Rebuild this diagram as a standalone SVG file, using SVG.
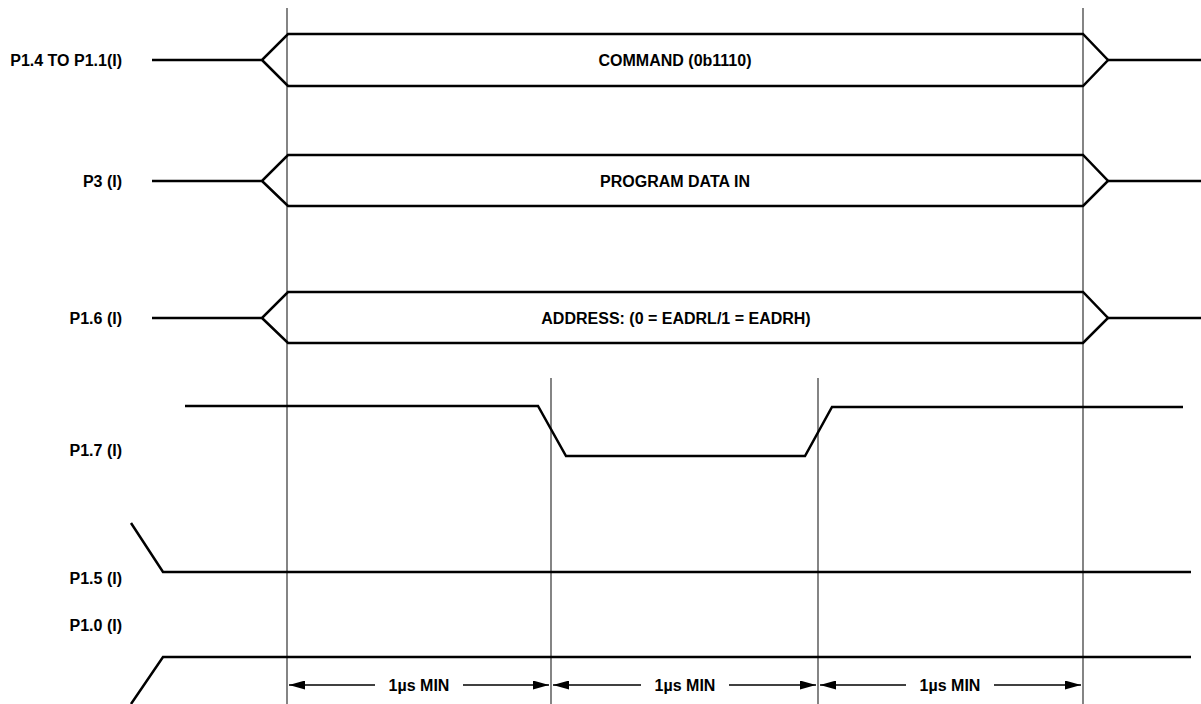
<svg xmlns="http://www.w3.org/2000/svg" width="1201" height="704" viewBox="0 0 1201 704">
<defs>
<style>
.sig{fill:none;stroke:#000;stroke-width:2.5;stroke-linejoin:miter}
.grid{stroke:#333;stroke-width:1.2}
.dim{stroke:#000;stroke-width:1.5}
.lbl{font-family:"Liberation Sans",Arial,sans-serif;font-weight:bold;font-size:16px;fill:#000}
.ah{fill:#000}
</style>
<marker id="arr" viewBox="0 0 16 9" refX="16" refY="4.5" markerWidth="16" markerHeight="9" markerUnits="userSpaceOnUse" orient="auto-start-reverse">
<path d="M0,0 L16,4.5 L0,9 Z" class="ah"/>
</marker>
</defs>
<rect width="1201" height="704" fill="#fff"/>
<g id="gridlines">
<line class="grid" x1="287" y1="8" x2="287" y2="704"/>
<line class="grid" x1="1083" y1="8" x2="1083" y2="704"/>
<line class="grid" x1="551" y1="378" x2="551" y2="704"/>
<line class="grid" x1="818" y1="378" x2="818" y2="704"/>
</g>
<g id="cmd">
<text class="lbl" x="122" y="66" text-anchor="end">P1.4 TO P1.1(I)</text>
<path class="sig" d="M152,60 H262 L288,34 H1083 L1108,60 L1083,86 H288 L262,60"/>
<path class="sig" d="M1108,60 H1201"/>
<text class="lbl" x="675" y="66" text-anchor="middle">COMMAND (0b1110)</text>
</g>
<g id="p3">
<text class="lbl" x="122" y="187" text-anchor="end">P3 (I)</text>
<path class="sig" d="M152,181 H262 L288,155 H1083 L1108,181 L1083,206 H288 L262,181"/>
<path class="sig" d="M1108,181 H1201"/>
<text class="lbl" x="675" y="187" text-anchor="middle">PROGRAM DATA IN</text>
</g>
<g id="p16">
<text class="lbl" x="122" y="324" text-anchor="end">P1.6 (I)</text>
<path class="sig" d="M152,318 H262 L288,292 H1083 L1108,318 L1083,343 H288 L262,318"/>
<path class="sig" d="M1108,318 H1201"/>
<text class="lbl" x="676" y="324" text-anchor="middle">ADDRESS: (0 = EADRL/1 = EADRH)</text>
</g>
<g id="p17">
<text class="lbl" x="122" y="456" text-anchor="end">P1.7 (I)</text>
<path class="sig" d="M185,406 H538 L566,456 H805 L832,407 H1183"/>
</g>
<g id="p15">
<text class="lbl" x="122" y="584" text-anchor="end">P1.5 (I)</text>
<path class="sig" d="M131,523 L163,572 H1191"/>
</g>
<g id="p10">
<text class="lbl" x="122" y="631" text-anchor="end">P1.0 (I)</text>
<path class="sig" d="M131,704 L163,657 H1191"/>
</g>
<g id="connectors">
<line class="dim" x1="289" y1="685" x2="375" y2="685" marker-start="url(#arr)"/>
<line class="dim" x1="463" y1="685" x2="549" y2="685" marker-end="url(#arr)"/>
<line class="dim" x1="553" y1="685" x2="641" y2="685" marker-start="url(#arr)"/>
<line class="dim" x1="729" y1="685" x2="816" y2="685" marker-end="url(#arr)"/>
<line class="dim" x1="820" y1="685" x2="906" y2="685" marker-start="url(#arr)"/>
<line class="dim" x1="994" y1="685" x2="1081" y2="685" marker-end="url(#arr)"/>
<text class="lbl" x="419" y="691" text-anchor="middle">1µs MIN</text>
<text class="lbl" x="685" y="691" text-anchor="middle">1µs MIN</text>
<text class="lbl" x="950" y="691" text-anchor="middle">1µs MIN</text>
</g>
</svg>
